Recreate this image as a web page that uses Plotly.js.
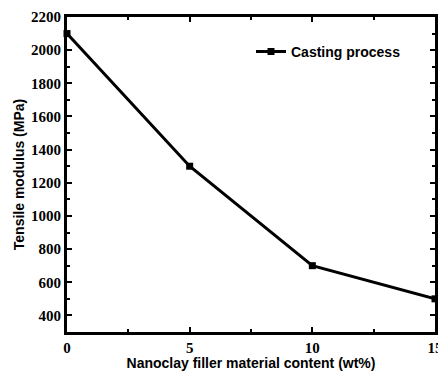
<!DOCTYPE html>
<html><head><meta charset="utf-8">
<script src="https://cdn.plot.ly/plotly-3.0.1.min.js"></script>
<style>body{margin:0;padding:0;background:#fff}#chart{width:438px;height:371px}</style>
</head><body><div id="chart"></div>
<script>
var content = [0, 5, 10, 15];
var modulus = [2100, 1300, 700, 500];
var seriesName = 'Casting process';
var xTicks = [0, 5, 10, 15];
var yTicks = [400, 600, 800, 1000, 1200, 1400, 1600, 1800, 2000, 2200];

var trace = {
  x: content, y: modulus, name: '<b>' + seriesName + '</b>', type: 'scatter', mode: 'lines+markers',
  line: {color: '#000', width: 3},
  marker: {symbol: 'square', size: 7, color: '#000'},
  cliponaxis: false
};
function tf() { return {family: '"Times New Roman", "Liberation Serif", serif', size: 15, color: '#000', weight: 700}; }
function ttf() { return {family: 'Arial, "Liberation Sans", sans-serif', size: 14, color: '#000', weight: 700}; }
var layout = {
  width: 438, height: 371,
  margin: {l: 67, r: 3, t: 17, b: 39},
  paper_bgcolor: '#fff', plot_bgcolor: '#fff',
  showlegend: true,
  legend: {x: 0.5, y: 0.94, xanchor: 'left', yanchor: 'top', bgcolor: 'rgba(0,0,0,0)',
    font: {family: 'Arial, "Liberation Sans", sans-serif', size: 14, color: '#000', weight: 700}},
  xaxis: {
    range: [0, 15], tickvals: xTicks, ticktext: xTicks.map(function(v){return '<b>' + v + '</b>';}),
    ticklabeloverflow: 'allow',
    ticks: 'inside', ticklen: 5, tickwidth: 2, tickcolor: '#000',
    minor: {tickvals: [2.5, 7.5, 12.5], ticks: 'inside', ticklen: 3, tickwidth: 2, tickcolor: '#000'},
    showline: true, linewidth: 3, linecolor: '#000', mirror: 'allticks',
    showgrid: false, zeroline: false, tickfont: tf(),
    title: {text: '<b>Nanoclay filler material content (wt%)</b>', font: ttf(), standoff: 2}
  },
  yaxis: {
    range: [300, 2200], tickvals: yTicks, ticktext: yTicks.map(function(v){return '<b>' + v + '</b>';}),
    ticklabeloverflow: 'allow',
    ticks: 'inside', ticklen: 5, tickwidth: 2, tickcolor: '#000',
    minor: {dtick: 100, tick0: 300, ticks: 'inside', ticklen: 3, tickwidth: 2, tickcolor: '#000'},
    showline: true, linewidth: 3, linecolor: '#000', mirror: 'allticks',
    showgrid: false, zeroline: false, tickfont: tf(),
    title: {text: '<b>Tensile modulus (MPa)</b>', font: ttf(), standoff: 4}
  }
};
Plotly.newPlot('chart', [trace], layout, {displayModeBar: false, staticPlot: true});
</script></body></html>
